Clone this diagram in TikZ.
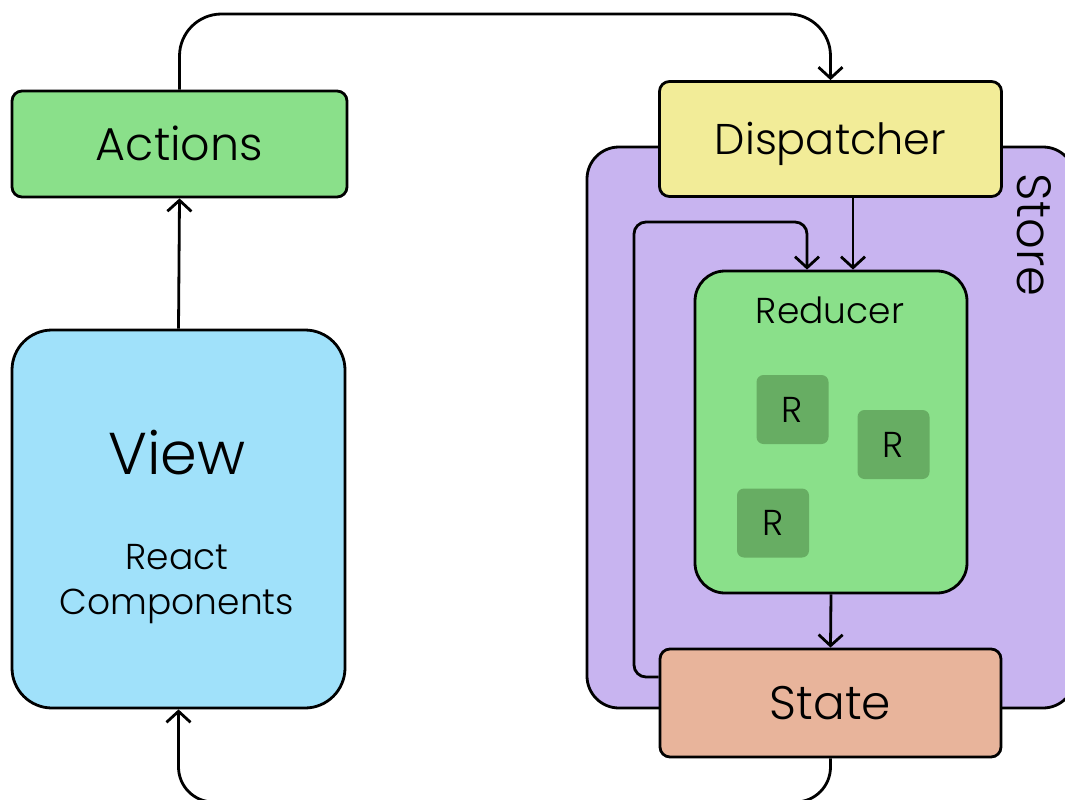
\documentclass[tikz,border=0pt]{standalone}
\usepackage{fontspec}
\setmainfont{Poppins Light}
\usetikzlibrary{arrows.meta,calc}
\definecolor{cgreen}{HTML}{8AE08A}
\definecolor{cblue}{HTML}{A0E1FA}
\definecolor{cyellow}{HTML}{F2EC98}
\definecolor{cpurple}{HTML}{C8B4F0}
\definecolor{csalmon}{HTML}{E8B49B}
\definecolor{cdark}{HTML}{67AD63}
\tikzset{
  box/.style={draw, line width=2.8pt, inner sep=0pt, text depth=0pt},
  rbox/.style={fill=cdark, rounded corners=7pt, inner sep=0pt, minimum width=72pt, minimum height=69pt,
    font=\fontsize{36}{40}\selectfont, text height=25pt, text depth=0pt},
  lbl/.style={inner sep=0pt, text depth=0pt},
  flow/.style={line width=2.8pt, -{Straight Barb[length=11pt,width=24pt]}},
}
\begin{document}
\begin{tikzpicture}[x=1pt,y=-1pt]
\useasboundingbox (0,0) rectangle (1065,800);
% Store container
\node[box, fill=cpurple, rounded corners=32pt, minimum width=488pt, minimum height=561pt] (store) at (831,427.5) {};
\node[lbl, rotate=-90, font=\fontsize{48}{52}\selectfont, text height=34pt] (storet) at (1034,235) {Store};
% Reducer
\node[box, fill=cgreen, rounded corners=30pt, minimum width=272pt, minimum height=322pt] (reducer) at (831,432) {};
\node[lbl, font=\fontsize{36}{40}\selectfont, text height=25pt] (reducert) at (830,310.5) {Reducer};
\node[rbox] (r1) at (792.5,409.5) {R};
\node[rbox] (r2) at (893.5,444.5) {R};
\node[rbox] (r3) at (773,523) {R};
% Dispatcher and State
\node[box, fill=cyellow, rounded corners=10pt, minimum width=342pt, minimum height=115pt,
  font=\fontsize{43}{46}\selectfont, text height=30pt] (dispatcher) at (830.5,139) {Dispatcher};
\node[box, fill=csalmon, rounded corners=10pt, minimum width=341pt, minimum height=108pt,
  font=\fontsize{47}{50}\selectfont, text height=33pt] (state) at (830.5,703) {State};
% Actions
\node[box, fill=cgreen, rounded corners=10pt, minimum width=335pt, minimum height=106pt,
  font=\fontsize{46}{50}\selectfont, text height=32pt] (actions) at (179.5,144) {Actions};
% View
\node[box, fill=cblue, rounded corners=40pt, minimum width=333pt, minimum height=378pt] (view) at (178.5,519) {};
\node[lbl, font=\fontsize{59}{62}\selectfont, text height=41pt] (viewt) at (177,453.5) {View};
\node[lbl, font=\fontsize{36}{40}\selectfont, text height=25pt] (reactt) at (177,556.5) {React};
\node[lbl, font=\fontsize{36}{40}\selectfont, text height=25pt] (compt) at (177,601.5) {Components};
% connectors
\coordinate (topc) at (505,14);
\coordinate (botc) at (505,802);
\coordinate (loopc) at (634,222);
\draw[flow, rounded corners=42pt] (actions.north) |- (topc) -| (dispatcher.north);
\draw[flow] (view.north) -- (actions.south);
\draw[flow] ([xshift=22.5pt]dispatcher.south) -- ([xshift=22pt]reducer.north);
\draw[flow] (reducer.south) -- (state.north);
\draw[flow, rounded corners=12pt] ([yshift=26pt]state.west) -| (loopc) -| ([xshift=-24pt]reducer.north);
\draw[flow, rounded corners=35pt] (state.south) |- (botc) -| (view.south);
\end{tikzpicture}
\end{document}
